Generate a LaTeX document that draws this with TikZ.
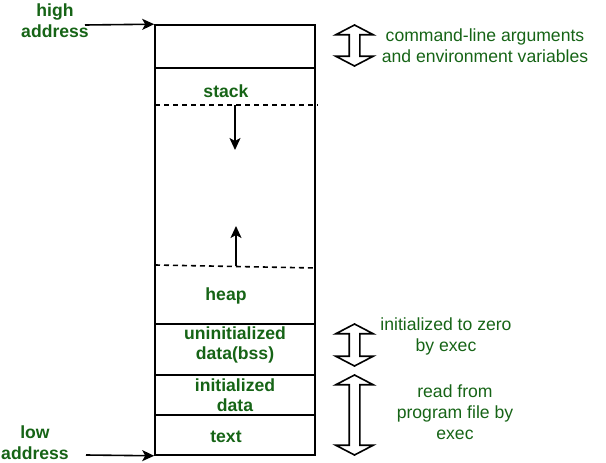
\documentclass[tikz,border=0pt]{standalone}
\usepackage{fontspec}
\setmainfont{Liberation Sans}
\usetikzlibrary{shapes,arrows.meta}
\definecolor{memgreen}{RGB}{22,100,22}

\begin{document}
\begin{tikzpicture}[x=1pt,y=-1pt,line width=1.6pt,
  seg/.style={draw,minimum width=160pt,inner sep=0pt},
  lab/.style={text=memgreen,font=\fontsize{17.6}{20.5}\selectfont\bfseries,align=center},
  note/.style={text=memgreen,font=\fontsize{17.6}{21}\selectfont,align=center},
  hollow/.style={draw,double arrow,rotate=90,inner sep=4.5pt,minimum width=36pt,
    double arrow head extend=13.5pt,double arrow tip angle=125},
  ptr/.style={-{Stealth[length=12pt,width=11pt,inset=3pt]}}]
\useasboundingbox (0,0) rectangle (606,463);
% memory segments
\node[seg,minimum height=43pt] (args) at (235,46.5) {};
\node[seg,minimum height=256pt] (stk) at (235,196) {};
\node[seg,minimum height=51pt] (bss) at (235,349.5) {};
\node[seg,minimum height=40pt] (dat) at (235,395) {};
\node[seg,minimum height=40pt] (txt) at (235,435) {};
% stack and heap limits
\draw[dash pattern=on 5pt off 4pt] (155,105) -- (318,105);
\draw[dash pattern=on 5pt off 4pt] (155,265) -- (316,268);
\coordinate (stktop) at (235,105); \coordinate (stkend) at (235,150);
\coordinate (heaptop) at (236,266); \coordinate (heapend) at (236,226);
\draw[ptr] (stktop) -- (stkend);
\draw[ptr] (heaptop) -- (heapend);
% labels
\node[lab] (stklab) at (226,91) {stack};
\node[lab] (heaplab) at (226,296) {heap};
\node[lab] (bsslab) at (235,345) {uninitialized\\data(bss)};
\node[lab] (datlab) at (235,395) {initialized\\data};
\node[lab] (txtlab) at (226,437) {text};
\node[lab] (high) at (55,20.5) {high\\address};
\node[lab] (low) at (35,442.5) {low\\address};
\coordinate (hiptr) at (85,25); \coordinate (loptr) at (86,455);
\draw[ptr] (hiptr) -- (args.north west);
\draw[ptr] (loptr) -- (txt.south west);
% right side
\node[hollow,minimum height=41pt] (argarr) at (354.5,45.5) {};
\node[hollow,minimum height=42pt] (bssarr) at (354.5,345) {};
\node[hollow,minimum height=80pt] (datarr) at (354.5,415) {};
\node[note] (argnote) at (485,45.5) {command-line arguments\\and environment variables};
\node[note] (bssnote) at (446,336) {initialized to zero\\by exec};
\node[note] (datnote) at (455,412) {read from\\program file by\\exec};
\end{tikzpicture}
\end{document}
